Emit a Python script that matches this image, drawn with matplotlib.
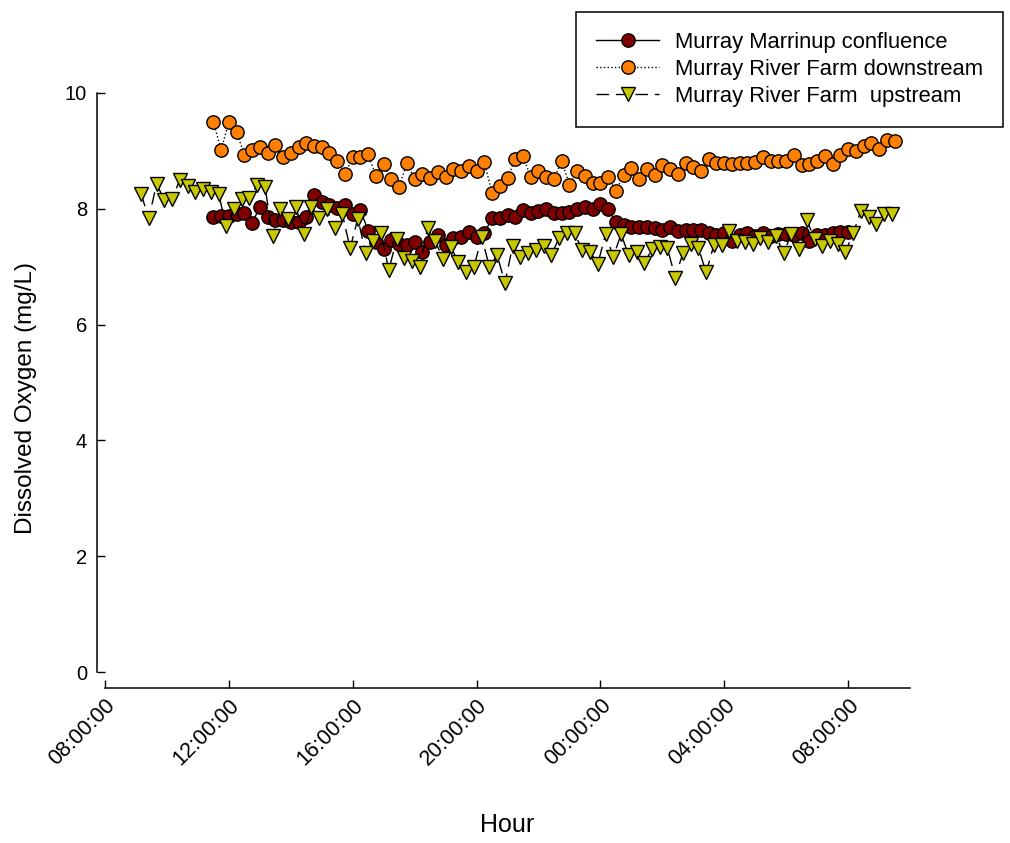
import numpy as np
import pandas as pd
import matplotlib
matplotlib.use("Agg")
import matplotlib.pyplot as plt
import matplotlib.dates as mdates

plt.rcParams['font.family'] = ['Liberation Sans', 'DejaVu Sans']

# logger readings, 15 minute interval
confluence_start = '2020-01-01 11:30'
confluence = [7.86, 7.88, 7.88, 7.91, 7.93, 7.75, 8.03, 7.86, 7.80, 7.80,
              7.78, 7.77, 7.85, 8.24, 8.12, 8.06, 8.01, 8.06, 7.91, 7.98,
              7.62, 7.43, 7.30, 7.46, 7.40, 7.37, 7.43, 7.25, 7.43, 7.55,
              7.37, 7.50, 7.52, 7.60, 7.52, 7.58, 7.84, 7.84, 7.90, 7.86,
              7.98, 7.93, 7.97, 8.00, 7.93, 7.93, 7.95, 8.00, 8.03, 8.00,
              8.08, 8.00, 7.77, 7.72, 7.68, 7.68, 7.68, 7.67, 7.63, 7.68,
              7.62, 7.63, 7.63, 7.63, 7.58, 7.55, 7.58, 7.45, 7.55, 7.58,
              7.53, 7.58, 7.53, 7.56, 7.56, 7.55, 7.58, 7.45, 7.55, 7.55,
              7.58, 7.60, 7.60]

downstream_start = '2020-01-01 11:30'
downstream = [9.50, 9.02, 9.50, 9.33, 8.93, 9.02, 9.07, 8.96, 9.10, 8.90,
              8.96, 9.07, 9.14, 9.08, 9.07, 8.96, 8.83, 8.60, 8.89, 8.89,
              8.94, 8.57, 8.77, 8.51, 8.38, 8.79, 8.51, 8.60, 8.53, 8.64,
              8.55, 8.69, 8.65, 8.74, 8.65, 8.81, 8.27, 8.39, 8.53, 8.86,
              8.91, 8.55, 8.65, 8.55, 8.51, 8.83, 8.41, 8.65, 8.57, 8.45,
              8.45, 8.55, 8.31, 8.58, 8.70, 8.51, 8.69, 8.58, 8.76, 8.69,
              8.60, 8.79, 8.72, 8.65, 8.86, 8.79, 8.79, 8.77, 8.79, 8.79,
              8.81, 8.89, 8.83, 8.83, 8.83, 8.93, 8.76, 8.77, 8.83, 8.91,
              8.77, 8.93, 9.03, 9.00, 9.08, 9.13, 9.03, 9.19, 9.17]

upstream_start = '2020-01-01 09:10'
upstream = [8.25, 7.84, 8.43, 8.15, 8.17, 8.50, 8.39, 8.29, 8.34, 8.29,
            8.26, 7.70, 8.00, 8.17, 8.18, 8.41, 8.38, 7.53, 7.99, 7.82,
            8.03, 7.56, 8.03, 7.84, 8.00, 7.66, 7.91, 7.32, 7.83, 7.24,
            7.44, 7.59, 6.94, 7.47, 7.15, 7.09, 6.99, 7.67, 7.44, 7.14,
            7.34, 7.08, 6.91, 7.00, 7.51, 7.00, 7.20, 6.72, 7.36, 7.16,
            7.24, 7.28, 7.36, 7.20, 7.50, 7.58, 7.58, 7.28, 7.26, 7.05,
            7.56, 7.17, 7.56, 7.20, 7.26, 7.06, 7.30, 7.34, 7.32, 6.81,
            7.24, 7.40, 7.32, 6.90, 7.38, 7.37, 7.62, 7.45, 7.43, 7.39,
            7.49, 7.43, 7.53, 7.24, 7.56, 7.30, 7.81, 7.47, 7.36, 7.45,
            7.39, 7.26, 7.58, 7.97, 7.85, 7.74, 7.91, 7.91]


def times(start, n):
    return pd.date_range(start, periods=n, freq='15min')


W, H = 1010, 843
fig = plt.figure(figsize=(W / 100, H / 100), dpi=100)
ax = fig.add_axes([105 / W, 1 - 672 / H, (910 - 105) / W, (672 - 93) / H])

ax.plot(times(confluence_start, len(confluence)), confluence, '-', color='black', lw=1.0,
        marker='o', ms=9.6, mfc='#800000', mec='black', mew=1.0,
        label='Murray Marrinup confluence')
ax.plot(times(downstream_start, len(downstream)), downstream, ':', color='black', lw=1.0,
        marker='o', ms=9.6, mfc='#ff8000', mec='black', mew=1.0,
        label='Murray River Farm downstream')
ax.plot(times(upstream_start, len(upstream)), upstream, color='black', lw=1.0,
        dashes=(9, 5), marker='v', ms=9.5, mfc='#c8c800', mec='black', mew=1.0,
        label='Murray River Farm  upstream')

ax.set_xlim(pd.Timestamp('2020-01-01 08:00'), pd.Timestamp('2020-01-02 10:00'))
ax.set_ylim(0, 10)
ax.set_yticks([0, 2, 4, 6, 8, 10])
ax.xaxis.set_major_locator(mdates.HourLocator(byhour=[0, 4, 8, 12, 16, 20]))
ax.xaxis.set_major_formatter(mdates.DateFormatter('%H:%M:%S'))

for side in ['top', 'right']:
    ax.spines[side].set_visible(False)
ax.spines['left'].set_position(('outward', 6))
ax.spines['bottom'].set_position(('outward', 11.5))
ax.spines['left'].set_bounds(0, 10)
for side in ['left', 'bottom']:
    ax.spines[side].set_linewidth(1.1)

ax.tick_params(axis='both', direction='in', length=6, width=1.0)
ax.tick_params(axis='y', pad=7, labelsize=14.5)
ax.tick_params(axis='x', pad=5, labelsize=15.5)
for lbl in ax.get_xticklabels():
    lbl.set_rotation(45)
    lbl.set_ha('right')
    lbl.set_va('top')
    lbl.set_rotation_mode('anchor')

ax.set_ylabel('Dissolved Oxygen (mg/L)', fontsize=17.5)
ax.yaxis.set_label_coords(37 / W, 1 - 398 / H, transform=fig.transFigure)
ax.set_xlabel('Hour', fontsize=18)
ax.xaxis.set_label_coords(507 / W, 1 - 825 / H, transform=fig.transFigure)
ax.xaxis.label.set_va('center')
ax.xaxis.label.set_ha('center')

leg = fig.legend(loc='upper left', bbox_to_anchor=(576 / W, 1 - 12 / H), fontsize=15.8,
                 frameon=True, fancybox=False, edgecolor='black', framealpha=1,
                 handlelength=2.9, handletextpad=0.72, borderpad=0.9, labelspacing=0.28,
                 borderaxespad=0)
leg.get_frame().set_linewidth(1.1)

fig.savefig('out.png', dpi=100)
